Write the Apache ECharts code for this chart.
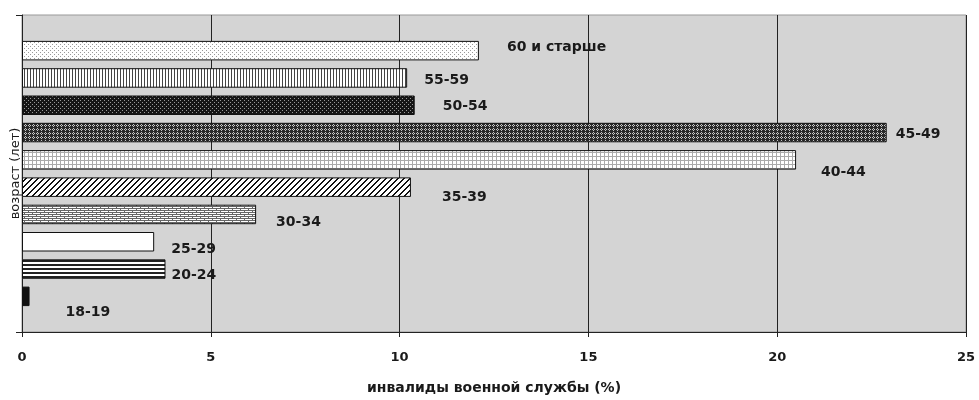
<!DOCTYPE html>
<html lang="ru">
<head>
    <meta charset="UTF-8">
    <title>инвалиды военной службы по возрасту</title>
    <script src="https://cdn.jsdelivr.net/npm/echarts@6/dist/echarts.min.js"></script>
    <style>
        html, body {margin: 0; padding: 0; background: #fff;}
        #main {width: 979px; height: 400px;}
    </style>
</head>
<body>
<div id="main"></div>
<script type="text/javascript">
    // age groups, top to bottom
    var ageGroups = ['60 и старше', '55-59', '50-54', '45-49', '40-44', '35-39', '30-34', '25-29', '20-24', '18-19'];
    var shares = [12.1, 10.2, 10.4, 22.9, 20.5, 10.3, 6.2, 3.5, 3.8, 0.2];
    var xTicks = [0, 5, 10, 15, 20, 25];

    // label shift from the bar end [dx, dy], same order as ageGroups
    var labelShift = [[28, -3], [17, 2], [28, 1], [9, 2], [25, 13], [31, 10], [20, 8], [17, 8], [6, 6], [36, 16]];

    function pattern(w, h, draw) {
        var c = document.createElement('canvas');
        c.width = w;
        c.height = h;
        var ctx = c.getContext('2d');
        draw(ctx);
        return {image: c, repeat: 'repeat'};
    }
    function px(ctx, col, pts) {
        ctx.fillStyle = col;
        for (var i = 0; i < pts.length; i++) ctx.fillRect(pts[i][0], pts[i][1], 1, 1);
    }

    var fills = [
        pattern(4, 4, function (ctx) {          // sparse dots
            ctx.fillStyle = '#fff'; ctx.fillRect(0, 0, 4, 4);
            px(ctx, '#999', [[0, 0], [2, 2]]);
        }),
        pattern(3, 3, function (ctx) {          // vertical lines
            ctx.fillStyle = '#fff'; ctx.fillRect(0, 0, 3, 3);
            ctx.fillStyle = '#444'; ctx.fillRect(0, 0, 1, 3);
        }),
        pattern(4, 4, function (ctx) {          // black with dots
            ctx.fillStyle = '#151515'; ctx.fillRect(0, 0, 4, 4);
            px(ctx, '#999', [[0, 0], [2, 2]]);
        }),
        pattern(4, 4, function (ctx) {          // dark trellis
            ctx.fillStyle = '#2a2a2a'; ctx.fillRect(0, 0, 4, 4);
            px(ctx, '#c8c8c8', [[1, 0], [0, 1], [2, 1], [1, 2]]);
        }),
        pattern(4, 4, function (ctx) {          // small grid
            ctx.fillStyle = '#fff'; ctx.fillRect(0, 0, 4, 4);
            ctx.fillStyle = '#aaa';
            ctx.fillRect(0, 0, 4, 1); ctx.fillRect(0, 0, 1, 4);
        }),
        pattern(6, 6, function (ctx) {          // wide diagonal
            ctx.fillStyle = '#fff'; ctx.fillRect(0, 0, 6, 6);
            ctx.fillStyle = '#111';
            for (var i = 0; i < 6; i++) {
                ctx.fillRect((5 - i + 6) % 6, i, 2, 1);
                ctx.fillRect((5 - i + 7) % 6, i, 1, 1);
            }
        }),
        pattern(8, 4, function (ctx) {          // bricks
            ctx.fillStyle = '#fff'; ctx.fillRect(0, 0, 8, 4);
            ctx.fillStyle = '#666';
            ctx.fillRect(0, 0, 8, 1); ctx.fillRect(0, 2, 8, 1);
            ctx.fillRect(0, 0, 1, 2); ctx.fillRect(4, 2, 1, 2);
        }),
        '#fff',
        pattern(4, 4, function (ctx) {          // horizontal lines
            ctx.fillStyle = '#fff'; ctx.fillRect(0, 0, 4, 4);
            ctx.fillStyle = '#222'; ctx.fillRect(0, 0, 4, 2);
        }),
        '#111'
    ];

    var series = ageGroups.map(function (name, i) {
        return {
            name: name,
            type: 'bar',
            data: [shares[i]],
            barWidth: 19.5,
            barGap: '40%',
            itemStyle: {color: fills[i], borderColor: '#111', borderWidth: 1},
            label: {
                show: true,
                position: 'right',
                distance: 0,
                offset: labelShift[i],
                formatter: '{a}',
                color: '#1a1a1a',
                fontFamily: 'DejaVu Sans',
                fontWeight: 'bold',
                fontSize: 14
            },
            silent: true
        };
    });

    var myChart = echarts.init(document.getElementById('main'));
    myChart.setOption({
        animation: false,
        backgroundColor: '#fff',
        grid: {
            left: 22, right: 13, top: 15, bottom: 68,
            outerBoundsMode: 'none',
            show: true, backgroundColor: '#d4d4d4', borderColor: '#999', borderWidth: 1
        },
        xAxis: {
            type: 'value',
            min: xTicks[0],
            max: xTicks[xTicks.length - 1],
            interval: xTicks[1] - xTicks[0],
            name: 'инвалиды военной службы (%)',
            nameLocation: 'middle',
            nameGap: 49,
            nameTextStyle: {fontFamily: 'DejaVu Sans', fontWeight: 'bold', fontSize: 14, color: '#1a1a1a'},
            axisLine: {show: true, lineStyle: {color: '#222', width: 1}},
            axisTick: {show: true, length: 5, lineStyle: {color: '#222'}},
            axisLabel: {margin: 19, fontFamily: 'DejaVu Sans', fontWeight: 'bold', fontSize: 13, color: '#1a1a1a'},
            splitLine: {show: true, lineStyle: {color: '#222', width: 1}}
        },
        yAxis: {
            type: 'category',
            data: [''],
            name: 'возраст (лет)',
            nameLocation: 'middle',
            nameGap: 0,
            nameTextStyle: {fontFamily: 'DejaVu Sans', fontSize: 13, color: '#1a1a1a'},
            axisLine: {show: true, lineStyle: {color: '#222', width: 1}},
            axisTick: {show: true, length: 6, lineStyle: {color: '#222'}},
            axisLabel: {show: false},
            splitLine: {show: false}
        },
        series: series
    });
</script>
</body>
</html>
